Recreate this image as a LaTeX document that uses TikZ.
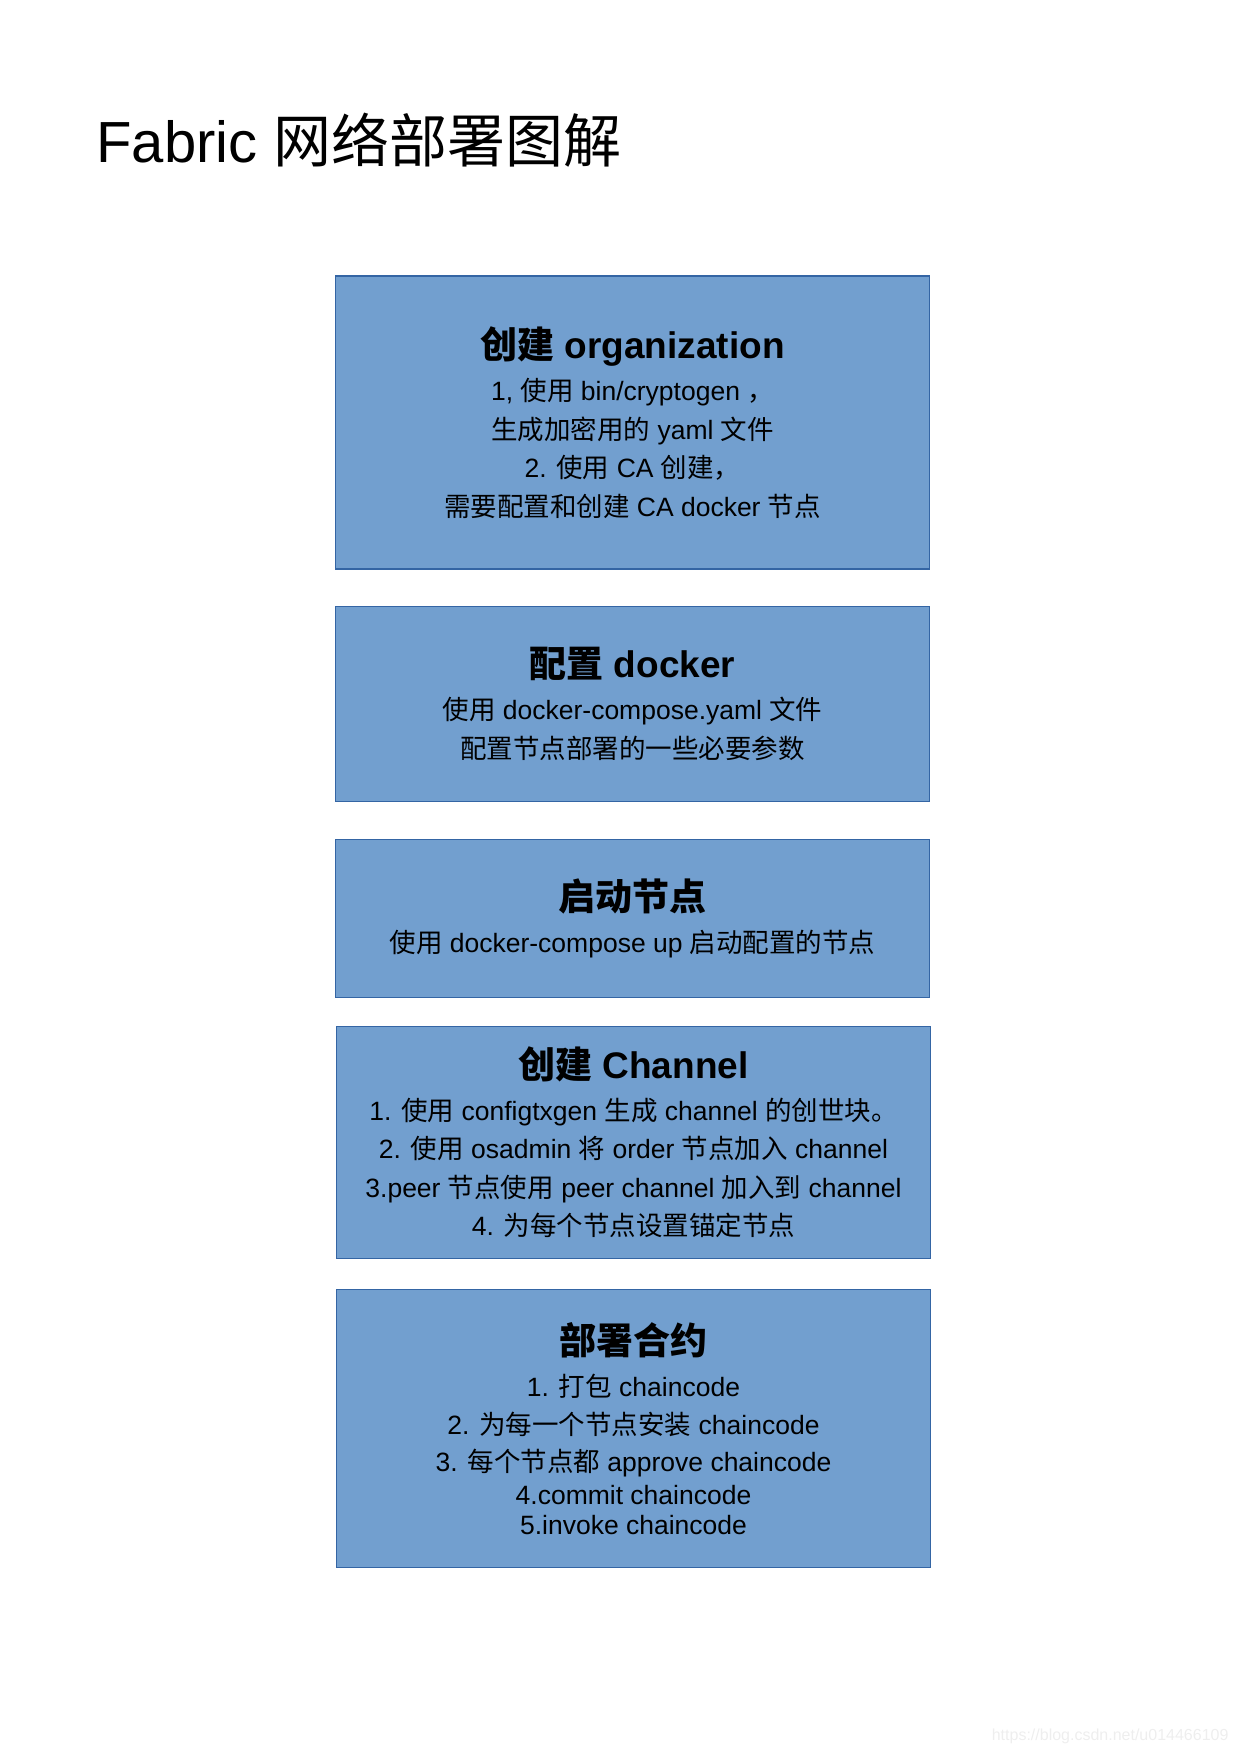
\documentclass[tikz,border=0pt]{standalone}
\usepackage{fontspec}
\setmainfont{Liberation Sans}
\newfontfamily\cjkfont{Noto Sans CJK SC}
\newcommand{\zh}[1]{{\cjkfont #1}}
\usepackage{tikz}
\usetikzlibrary{positioning}
\definecolor{StepFill}{HTML}{729FCF}
\definecolor{StepEdge}{HTML}{3465A4}
\definecolor{MarkGray}{HTML}{EEEEEE}
\tikzset{
  stepbox/.style={
    draw=StepEdge,
    fill=StepFill,
    line width=1.2pt,
    minimum width=594pt,
    inner sep=0pt,
    align=center,
    font=\fontsize{26.5}{38.5}\selectfont
  }
}
\newcommand{\stephead}[1]{{\fontsize{37}{42}\selectfont\bfseries #1}}

\begin{document}
\begin{tikzpicture}[x=1pt,y=-1pt]
    \useasboundingbox (0,0) rectangle (1241,1754);
    \node[anchor=base west, font=\fontsize{58}{62}\selectfont] (title) at (93,162) {Fabric \zh{网络部署图解}};
    \node[stepbox, minimum height=293pt] (org) at (632.5,422.5) {%
      \stephead{\zh{创建} organization}\\[3.5pt]
      1, \zh{使用} bin/cryptogen \zh{，}\\
      \zh{生成加密用的} yaml \zh{文件}\\
      2. \zh{使用} CA \zh{创建，}\\
      \zh{需要配置和创建} CA docker \zh{节点}};
    \node[stepbox, minimum height=195pt, below=36pt of org] (docker) {%
      \stephead{\zh{配置} docker}\\[3.5pt]
      \zh{使用} docker-compose.yaml \zh{文件}\\
      \zh{配置节点部署的一些必要参数}};
    \node[stepbox, minimum height=158pt, below=37pt of docker] (start) {%
      \stephead{\zh{启动节点}}\\[3.5pt]
      \zh{使用} docker-compose up \zh{启动配置的节点}};
    \node[stepbox, minimum height=232pt, below=27.8pt of start, xshift=1pt] (channel) {%
      \stephead{\zh{创建} Channel}\\[3.5pt]
      1. \zh{使用} configtxgen \zh{生成} channel \zh{的创世块。}\\
      2. \zh{使用} osadmin \zh{将} order \zh{节点加入} channel\\
      3.peer \zh{节点使用} peer channel \zh{加入到} channel\\
      4. \zh{为每个节点设置锚定节点}};
    \node[stepbox, minimum height=278pt, below=30pt of channel] (chaincode) {%
      \stephead{\zh{部署合约}}\\[3.5pt]
      1. \zh{打包} chaincode\\
      2. \zh{为每一个节点安装} chaincode\\[-1.5pt]
      3. \zh{每个节点都} approve chaincode\\[-5.5pt]
      4.commit chaincode\\[-8.5pt]
      5.invoke chaincode};
    \node[anchor=base east, text=MarkGray, font=\fontsize{16}{20}\selectfont] (mark) at (1232,1740) {https://blog.csdn.net/u014466109};
  \end{tikzpicture}
\end{document}
